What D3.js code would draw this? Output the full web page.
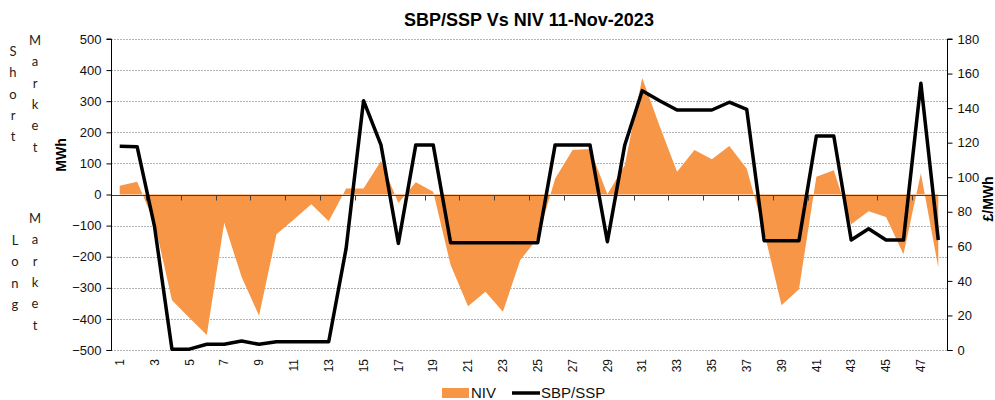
<!DOCTYPE html>
<html>
<head>
<meta charset="utf-8">
<script src="https://cdn.jsdelivr.net/npm/d3@7"></script>
<style>
    body { margin: 0; background: #fff; }
    svg text { font-family: "Liberation Sans", Arial, sans-serif; }
</style>
</head>
<body>
<svg id="svg"></svg>
<script>
    // - data : settlement periods, NIV (MWh) and SBP/SSP (£/MWh)
    var periods = d3.range(1, 49);
    var niv = [28, 41, -90, -340, -396, -452, -91, -265, -390, -128, -80, -31,
               -86, 19, 19, 108, -27, 39, 9, -227, -359, -313, -377, -211,
               -140, 51, 143, 146, 1, 94, 375, 220, 73, 143, 113, 156,
               84, -120, -356, -305, 57, 78, -96, -54, -72, -192, 68, -235];
    var price = [117.9, 117.7, 71.4, 0.5, 0.5, 3.3, 3.3, 5.2, 3.3, 4.8, 4.8, 4.8,
                 4.8, 58.8, 144.3, 118.7, 61.7, 118.7, 118.7, 62.1, 62.1, 62.1, 62.1, 62.1,
                 62.1, 118.7, 118.7, 118.7, 62.7, 118.7, 150.1, 144.3, 138.9, 138.9, 138.9, 143.4,
                 139.3, 63.3, 63.3, 63.3, 123.9, 123.9, 63.7, 70.2, 63.7, 63.7, 154.4, 63.7];
    var leftTicks = d3.range(-500, 501, 100);
    var rightTicks = d3.range(0, 181, 20);
    var title = "SBP/SSP Vs NIV 11-Nov-2023";

    var W = 995, H = 400;
    // - plot area (note: "top" is taken by window.top)
    var plotL = 111, plotR = 947, plotT = 39, plotB = 350;

    var svg = d3.select("svg#svg")
        .attr("width", W)
        .attr("height", H)
        .style("background-color", "white");

    var x = d3.scalePoint().domain(periods).range([plotL, plotR]).padding(0.5);
    var step = x.step();
    var y = d3.scaleLinear().domain([-500, 500]).range([plotB, plotT]);
    var y2 = d3.scaleLinear().domain([0, 180]).range([plotB, plotT]);

    // - gridlines (dotted)
    svg.append("g").selectAll("line")
        .data(leftTicks.filter(function(d) { return d != 0; }))
        .enter().append("line")
        .attr("x1", plotL).attr("x2", plotR)
        .attr("y1", function(d) { return Math.round(y(d)) + 0.5; })
        .attr("y2", function(d) { return Math.round(y(d)) + 0.5; })
        .style("stroke", "#b5b5b5")
        .style("stroke-dasharray", "2,1")
        .attr("stroke-width", 1);

    // - NIV area
    var rows = periods.map(function(p, i) { return {p: p, niv: niv[i], price: price[i]}; });
    var area = d3.area()
        .x(function(d) { return x(d.p); })
        .y0(y(0))
        .y1(function(d) { return y(d.niv); });
    svg.append("path")
        .datum(rows)
        .attr("d", area)
        .style("fill", "#F79646");

    // - zero line + category ticks
    var y0px = Math.round(y(0)) + 0.5;
    svg.append("line")
        .attr("x1", plotL).attr("x2", plotR)
        .attr("y1", y0px).attr("y2", y0px)
        .style("stroke", "#404040")
        .attr("stroke-width", 1);
    svg.append("g").selectAll("line")
        .data(periods.filter(function(p) { return p % 2 == 0 && p < 48; }))
        .enter().append("line")
        .attr("x1", function(p) { return Math.round(x(p) + step / 2) + 0.5; })
        .attr("x2", function(p) { return Math.round(x(p) + step / 2) + 0.5; })
        .attr("y1", y0px).attr("y2", y0px + 5)
        .style("stroke", "#404040");

    // - price line
    var line = d3.line()
        .x(function(d) { return x(d.p); })
        .y(function(d) { return y2(d.price); });
    svg.append("path")
        .datum(rows)
        .attr("d", line)
        .style("fill", "none")
        .style("stroke", "black")
        .style("stroke-linejoin", "round")
        .attr("stroke-width", 3.5);

    // - left axis
    var yAxis = d3.axisLeft(y).tickValues(leftTicks).tickSize(5).tickPadding(5);
    var gl = svg.append("g").attr("transform", "translate(" + (plotL + 0.5) + ",0)").call(yAxis);
    // - right axis
    var y2Axis = d3.axisRight(y2).tickValues(rightTicks).tickSize(5).tickPadding(5);
    var gr = svg.append("g").attr("transform", "translate(" + (plotR + 0.5) + ",0)").call(y2Axis);
    [gl, gr].forEach(function(g) {
        g.select(".domain").style("stroke", "black").attr("d", g === gl ?
            "M-5," + (plotB + 0.5) + "H0V" + plotT + "H-5" : "M5," + (plotB + 0.5) + "H0V" + plotT + "H5");
        g.selectAll(".tick line").style("stroke", "black");
        g.selectAll("text")
            .style("font-family", "'Liberation Sans', Arial, sans-serif")
            .style("font-size", "13px")
            .style("fill", "#111");
    });

    // - x labels (odd periods, rotated)
    svg.append("g").selectAll("text")
        .data(periods.filter(function(p) { return p % 2 == 1; }))
        .enter().append("text")
        .attr("transform", function(p) { return "translate(" + x(p) + "," + (plotB + 9) + ") rotate(-90)"; })
        .attr("dy", "0.35em")
        .style("text-anchor", "end")
        .style("font-size", "12px")
        .style("fill", "#111")
        .text(function(p) { return p; });

    // - title
    svg.append("text")
        .attr("x", 529).attr("y", 26)
        .style("text-anchor", "middle")
        .style("font-size", "18px")
        .style("font-weight", "bold")
        .text(title);

    // - axis titles
    svg.append("text")
        .attr("transform", "translate(66,155) rotate(-90)")
        .style("text-anchor", "middle")
        .style("font-size", "14px")
        .style("font-weight", "bold")
        .text("MWh");
    svg.append("text")
        .attr("transform", "translate(993,199) rotate(-90)")
        .style("text-anchor", "middle")
        .style("font-size", "14px")
        .style("font-weight", "bold")
        .text("£/MWh");

    // - vertical side notes
    var notes = [
        {word: "Short", x: 13, y0: 56},
        {word: "Market", x: 35, y0: 45},
        {word: "Long", x: 15, y0: 245},
        {word: "Market", x: 35, y0: 223}
    ];
    notes.forEach(function(n) {
        svg.append("g").selectAll("text")
            .data(n.word.split(""))
            .enter().append("text")
            .attr("x", n.x)
            .attr("y", function(d, i) { return n.y0 + i * 21.3; })
            .style("text-anchor", "middle")
            .style("font-family", "Lato, 'Open Sans', sans-serif")
            .style("font-size", "13px")
            .style("fill", "#222")
            .text(function(d) { return d; });
    });

    // - legend
    var lg = svg.append("g");
    lg.append("rect").attr("x", 442).attr("y", 388).attr("width", 27).attr("height", 10).style("fill", "#F79646");
    lg.append("text").attr("x", 471).attr("y", 398).style("font-size", "15px").style("fill", "#111").text("NIV");
    lg.append("line").attr("x1", 512).attr("x2", 540).attr("y1", 393).attr("y2", 393)
        .style("stroke", "black").attr("stroke-width", 3.5);
    lg.append("text").attr("x", 541).attr("y", 398).style("font-size", "15px").style("fill", "#111").text("SBP/SSP");
</script>
</body>
</html>
